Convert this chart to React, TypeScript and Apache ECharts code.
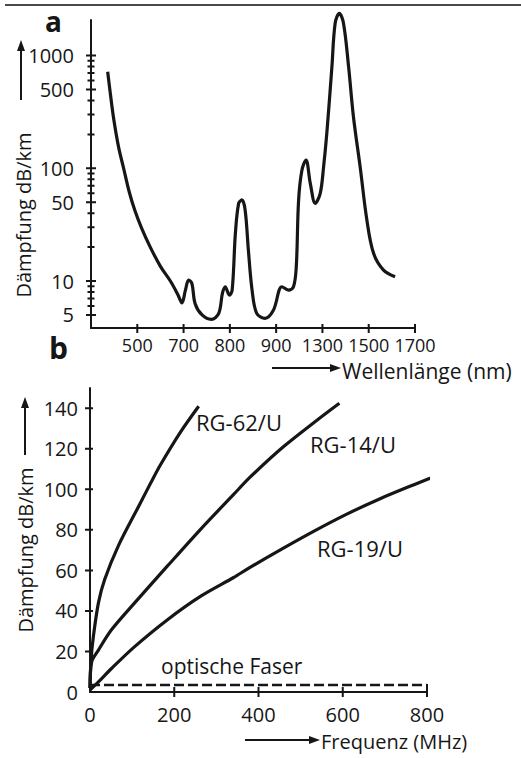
import React, { useEffect, useRef } from "react";
import * as echarts from "echarts";

// ---------- panel a: attenuation of optical fibre vs wavelength ----------
const WL_TICKS = [500, 700, 800, 900, 1300, 1500, 1700];
const WL_ORIGIN = 300; // wavelength assumed at the axis origin
const ATT_MAJOR = [5, 10, 50, 100, 500, 1000];
const ATT_MINOR = [6, 7, 8, 9, 20, 30, 40, 60, 70, 80, 90, 200, 300, 400, 600, 700, 800, 900];
const ATT_MIN = 3.83;
const ATT_MAX = 2070;

const FIBER_WL = [
  372, 383, 398, 419, 441, 465, 490, 520, 556, 600, 643, 675, 693, 704, 711, 718, 725, 740, 760, 776,
  784, 790, 799, 805, 812, 819, 826, 833, 840, 848, 858, 876, 894, 950, 1007, 1050, 1074, 1094, 1123,
  1158, 1195, 1238, 1281, 1305, 1319, 1341, 1355, 1373, 1391, 1413, 1434, 1463, 1492, 1521, 1564, 1614,
];
const FIBER_ATT = [
  720, 470, 275, 155, 100, 62, 42, 29, 20, 13.5, 10, 7.6, 6.4, 8.3, 10.2, 9.5, 6.3, 5.0, 4.57, 5.17,
  7.8, 8.9, 7.5, 8.3, 26.7, 48.9, 52.4, 42.7, 18.8, 8.3, 5.17, 4.67, 5.5, 8.9, 8.3, 8.9, 13.4, 52, 96.6,
  118.5, 73.6, 48.9, 60, 103, 205, 798, 1937, 2370, 1937, 798, 287, 103, 34.8, 17.6, 12.5, 10.9,
];

// ---------- panel b: coaxial cables vs frequency ----------
const FREQ_TICKS = [0, 200, 400, 600, 800];
const ATT_B_TICKS = [0, 20, 40, 60, 80, 100, 120, 140];
const ATT_B_MAX = 150;

const RG62_F = [0, 2.4, 8, 20, 35, 67, 119, 145, 167, 214, 258];
const RG62_V = [2, 15.8, 27.4, 44, 55.6, 72, 93, 103.5, 112, 128, 141];

const RG14_F = [0, 4, 20, 51, 106, 184, 263, 341, 380, 459, 538, 592];
const RG14_V = [2, 14.9, 20.7, 30.7, 44, 62.2, 80.4, 97.5, 106, 121, 134, 142.5];

const RG19_F = [0, 20, 51, 106, 184, 263, 341, 376, 455, 533, 612, 690, 769, 850];
const RG19_V = [1, 5, 11.6, 22.4, 35.7, 47.3, 56.5, 61, 70.5, 79.5, 88, 95.5, 102.3, 109];

const OPT_F = [0, 800];
const OPT_V = [3.5, 3.5];

const FONT = "'Open Sans', Lato, 'DejaVu Sans', sans-serif";
const INK = "#161616";

function wlPos(nm: number): number {
  const br = [WL_ORIGIN, ...WL_TICKS];
  for (let i = 0; i < br.length - 1; i++) {
    if (nm <= br[i + 1]) return i + (nm - br[i]) / (br[i + 1] - br[i]);
  }
  return br.length - 1;
}

const lg = (v: number) => Math.log10(v);

export default function App() {
  const ref = useRef<HTMLDivElement>(null);

  useEffect(() => {
    if (!ref.current) return;
    const chart = echarts.init(ref.current, undefined, { renderer: "svg" });

    const tickPos = WL_TICKS.map((_, i) => i + 1);
    const labelStyle = { color: INK, fontFamily: FONT, fontSize: 20 };
    const hidden = { show: false };
    const axLine = { show: true, lineStyle: { color: INK, width: 2 } };
    const yMinA = lg(ATT_MIN);
    const yMaxA = lg(ATT_MAX);

    const series: any[] = [
      {
        type: "line",
        xAxisIndex: 0,
        yAxisIndex: 0,
        data: FIBER_WL.map((w, i) => [wlPos(w), lg(FIBER_ATT[i])]),
        smooth: 0.35,
        showSymbol: false,
        clip: false,
        lineStyle: { color: INK, width: 3.2 },
      },
      ...[
        [RG62_F, RG62_V],
        [RG14_F, RG14_V],
        [RG19_F, RG19_V],
      ].map(([f, v]) => ({
        type: "line",
        xAxisIndex: 1,
        yAxisIndex: 1,
        data: f.map((x, i) => [x, v[i]]),
        smooth: 0.3,
        showSymbol: false,
        clip: false,
        lineStyle: { color: INK, width: 3.2 },
      })),
      {
        type: "line",
        xAxisIndex: 1,
        yAxisIndex: 1,
        data: OPT_F.map((x, i) => [x, OPT_V[i]]),
        showSymbol: false,
        clip: false,
        lineStyle: { color: INK, width: 2.5, type: [10, 4] },
      },
    ];

    const txt = (text: string, x: number, y: number, font: string) => ({
      type: "text",
      x,
      y,
      style: { text, font, fill: INK, textAlign: "left", textVerticalAlign: "middle" },
    });

    const graphicBase: any[] = [
      { type: "line", shape: { x1: 5, y1: 5, x2: 521, y2: 5 }, style: { stroke: "#4a4a4a", lineWidth: 2 } },
      txt("a", 45, 21, `bold 28px ${FONT}`),
      txt("b", 49, 347, `bold 30px ${FONT}`),
      { type: "text", x: 23, y: 215, rotation: Math.PI / 2, style: { text: "Dämpfung dB/km", font: `20px ${FONT}`, fill: INK, textAlign: "center", textVerticalAlign: "middle" } },
      { type: "line", shape: { x1: 21, y1: 100, x2: 21, y2: 48 }, style: { stroke: INK, lineWidth: 2 } },
      { type: "polygon", shape: { points: [[21, 40], [17, 51], [25, 51]] }, style: { fill: INK } },
      { type: "text", x: 25, y: 550, rotation: Math.PI / 2, style: { text: "Dämpfung dB/km", font: `20px ${FONT}`, fill: INK, textAlign: "center", textVerticalAlign: "middle" } },
      { type: "line", shape: { x1: 25, y1: 455, x2: 25, y2: 405 }, style: { stroke: INK, lineWidth: 2 } },
      { type: "polygon", shape: { points: [[25, 397], [21, 408], [29, 408]] }, style: { fill: INK } },
      { type: "line", shape: { x1: 272, y1: 368, x2: 332, y2: 368 }, style: { stroke: INK, lineWidth: 2 } },
      { type: "polygon", shape: { points: [[341, 368], [330, 364], [330, 372]] }, style: { fill: INK } },
      txt("Wellenlänge (nm)", 342, 371, `21px ${FONT}`),
      { type: "line", shape: { x1: 245, y1: 740, x2: 311, y2: 740 }, style: { stroke: INK, lineWidth: 2 } },
      { type: "polygon", shape: { points: [[320, 740], [309, 736], [309, 744]] }, style: { fill: INK } },
      txt("Frequenz (MHz)", 321, 741, `20px ${FONT}`),
      txt("RG-62/U", 196, 422, `22px ${FONT}`),
      txt("RG-14/U", 310, 444, `22px ${FONT}`),
      txt("RG-19/U", 317, 548, `22px ${FONT}`),
      txt("optische Faser", 161, 666, `21px ${FONT}`),
    ];

    const grids = [
      { left: 91, top: 20, width: 324, height: 308 },
      { left: 90, top: 388, width: 337, height: 304 },
    ];
    const ext = [
      { x: [0, WL_TICKS.length], y: [yMinA, yMaxA] },
      { x: [0, 800], y: [0, ATT_B_MAX] },
    ];

    const option: any = {
      animation: false,
      backgroundColor: "#ffffff",
      grid: grids.map((g) => ({ ...g, outerBoundsMode: "none" })),
      xAxis: [
        {
          type: "value", gridIndex: 0, position: "bottom", min: ext[0].x[0], max: ext[0].x[1],
          axisLine: axLine, axisTick: hidden, splitLine: hidden,
          axisLabel: {
            ...labelStyle, fontSize: 18, margin: 8, customValues: tickPos,
            formatter: (v: number) => String(WL_TICKS[Math.round(v) - 1]),
          },
        },
        {
          type: "value", gridIndex: 1, position: "bottom", min: ext[1].x[0], max: ext[1].x[1],
          axisLine: axLine, axisTick: hidden, splitLine: hidden,
          axisLabel: { ...labelStyle, margin: 12, customValues: FREQ_TICKS },
        },
      ],
      yAxis: [
        {
          type: "value", gridIndex: 0, position: "left", min: ext[0].y[0], max: ext[0].y[1],
          axisLine: axLine, axisTick: hidden, splitLine: hidden,
          axisLabel: {
            ...labelStyle, margin: 17, customValues: ATT_MAJOR.map(lg),
            formatter: (v: number) => String(Math.round(Math.pow(10, v))),
          },
        },
        {
          type: "value", gridIndex: 1, position: "left", min: ext[1].y[0], max: ext[1].y[1],
          axisLine: axLine, axisTick: hidden, splitLine: hidden,
          axisLabel: { ...labelStyle, margin: 12, customValues: ATT_B_TICKS },
        },
      ],
      series,
      graphic: graphicBase,
    };

    chart.setOption(option);

    // pixel position of a data point through the chart's scales (fallback: same linear scale)
    const px = (g: number, x: number, y: number): number[] => {
      let p: any = null;
      try {
        p = chart.convertToPixel({ xAxisIndex: g, yAxisIndex: g } as any, [x, y]);
      } catch (e) {
        p = null;
      }
      if (p && isFinite(p[0]) && isFinite(p[1])) return [p[0], p[1]];
      const gr = grids[g];
      const e = ext[g];
      return [
        gr.left + ((x - e.x[0]) / (e.x[1] - e.x[0])) * gr.width,
        gr.top + gr.height - ((y - e.y[0]) / (e.y[1] - e.y[0])) * gr.height,
      ];
    };

    // each axis drawn as one polyline that carries its crossing tick marks
    const yAxisPath = (g: number, majors: number[], minors: number[], l: number, r: number, ml: number) => {
      const e = ext[g];
      const all = [
        ...majors.map((v) => ({ v, a: l, b: r })),
        ...minors.map((v) => ({ v, a: ml, b: ml })),
      ].sort((p, q) => q.v - p.v);
      const top = px(g, 0, e.y[1]);
      const pts: number[][] = [top];
      all.forEach(({ v, a, b }) => {
        const [x, y] = px(g, 0, v);
        pts.push([x, y], [x - a, y], [x + b, y], [x, y]);
      });
      pts.push(px(g, 0, e.y[0]));
      return { type: "polyline", z: 50, shape: { points: pts }, style: { stroke: INK, lineWidth: 2, fill: "none", lineJoin: "miter" } };
    };
    const xAxisPath = (g: number, ticks: number[], up: number, down: number, lastUp: number) => {
      const e = ext[g];
      const pts: number[][] = [px(g, e.x[0], e.y[0])];
      ticks.forEach((t, i) => {
        const [x, y] = px(g, t, e.y[0]);
        const u = i === ticks.length - 1 ? lastUp : up;
        pts.push([x, y], [x, y - u], [x, y + down], [x, y]);
      });
      pts.push(px(g, e.x[1], e.y[0]));
      return { type: "polyline", z: 50, shape: { points: pts }, style: { stroke: INK, lineWidth: 2, fill: "none" } };
    };

    const axisPaths = [
      yAxisPath(0, ATT_MAJOR.map(lg), ATT_MINOR.map(lg), 5, 5, 3.5),
      xAxisPath(0, tickPos, 4, 5, 4),
      yAxisPath(1, ATT_B_TICKS.slice(1), [], 5, 3, 0),
      xAxisPath(1, FREQ_TICKS.slice(1), 5, 5, 8),
    ];

    chart.setOption({ graphic: [...graphicBase, ...axisPaths] });

    return () => chart.dispose();
  }, []);

  return (
    <div
      ref={ref}
      style={{ position: "absolute", left: 0, top: 0, width: 521, height: 758, background: "#fff" }}
    />
  );
}
